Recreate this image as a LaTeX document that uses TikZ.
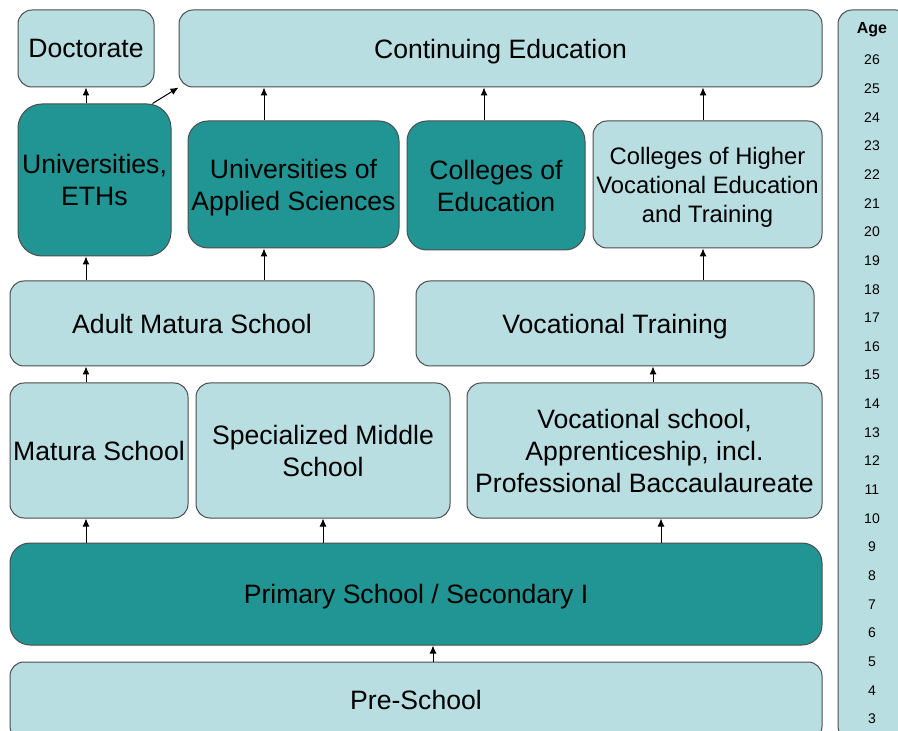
\documentclass[tikz,border=0pt]{standalone}
\usepackage{fontspec}
\setmainfont{Liberation Sans}
\definecolor{paleteal}{RGB}{185, 222, 225}
\definecolor{deepteal}{RGB}{33, 149, 147}
\definecolor{edgegray}{RGB}{77, 77, 77}
\usetikzlibrary{arrows.meta, positioning}

\begin{document}
\begin{tikzpicture}[x=0.5pt, y=-0.5pt,
    school/.style={draw=edgegray, line width=0.5pt, fill=paleteal, rounded corners=7pt, align=center, inner sep=0pt, text depth=0pt, font=\fontsize{13.3}{16}\selectfont},
    uni/.style={school, fill=deepteal, rounded corners=10pt},
    agenum/.style={font=\fontsize{7}{8}\selectfont, inner sep=0pt},
    arr/.style={-{Latex[length=4pt, width=3.5pt]}, line width=0.5pt}]
  \clip (0,0) rectangle (898,731);
  \fill[white] (0,0) rectangle (898,731);

  % Top row
  \node[school, minimum width=68pt, minimum height=38.5pt] (doc) at (86,48.5) {Doctorate};
  \node[school, minimum width=321.5pt, minimum height=38.5pt] (ce) at (500.5,48.5) {Continuing Education};

  % Tertiary level
  \node[uni, rounded corners=12pt, minimum width=76.5pt, minimum height=76pt] (eth) at (94.5,180) {Universities,\\ETHs};
  \node[uni, minimum width=105.5pt, minimum height=63.5pt] (uas) at (293.5,184.5) {Universities of\\Applied Sciences};
  \node[uni, minimum width=89pt, minimum height=64.5pt] (coe) at (496,185.5) {Colleges of\\Education};
  \node[school, minimum width=114.5pt, minimum height=63.5pt, font=\fontsize{11.9}{14.5}\selectfont] (hvet) at (707.5,184.5) {Colleges of Higher\\Vocational Education\\and Training};

  % Bridging
  \node[school, minimum width=182pt, minimum height=42.5pt] (adult) at (192,323.5) {Adult Matura School};
  \node[school, minimum width=199pt, minimum height=42.5pt] (voctr) at (615,323.5) {Vocational Training};

  % Secondary II
  \node[school, minimum width=89pt, minimum height=67.5pt] (matura) at (99,450.5) {Matura School};
  \node[school, minimum width=127pt, minimum height=67.5pt] (sms) at (323,450.5) {Specialized Middle\\School};
  \node[school, minimum width=177.5pt, minimum height=67.5pt] (vocsch) at (644.5,450.5) {Vocational school,\\Apprenticeship, incl.\\Professional Baccaulaureate};

  % Compulsory and pre-school
  \node[uni, minimum width=406pt, minimum height=51pt] (primary) at (416,594) {Primary School / Secondary I};
  \node[school, minimum width=406pt, minimum height=39pt] (pre) at (416,701) {\raisebox{1.5pt}{Pre-School}};

  % Age scale
  \node[school, minimum width=36pt, minimum height=365pt] (agecol) at (874,375) {};
  \node[agenum, font=\fontsize{8}{9}\selectfont\bfseries] (agehead) at (872,30) {Age};
  \foreach \a in {3,...,26}
    \node[agenum] (age\a) at (872,{60+(26-\a)*28.65}) {\a};

  % Arrow columns
  \coordinate (colA) at (86,0);
  \coordinate (colB) at (264,0);
  \coordinate (colC) at (484,0);
  \coordinate (colD) at (703,0);
  \coordinate (colE) at (653,0);
  \coordinate (colF) at (323,0);
  \coordinate (colG) at (661,0);
  \coordinate (colH) at (433,0);

  % Arrows
  \draw[arr] (eth.north -| colA) -- (doc.south -| colA);
  \draw[arr] ([xshift=-9.5pt]eth.north east) -- (ce.south west);
  \draw[arr] (uas.north -| colB) -- (ce.south -| colB);
  \draw[arr] (coe.north -| colC) -- (ce.south -| colC);
  \draw[arr] (hvet.north -| colD) -- (ce.south -| colD);
  \draw[arr] (adult.north -| colA) -- (eth.south -| colA);
  \draw[arr] (adult.north -| colB) -- (uas.south -| colB);
  \draw[arr] (voctr.north -| colD) -- (hvet.south -| colD);
  \draw[arr] (matura.north -| colA) -- (adult.south -| colA);
  \draw[arr] (vocsch.north -| colE) -- (voctr.south -| colE);
  \draw[arr] (primary.north -| colA) -- (matura.south -| colA);
  \draw[arr] (primary.north -| colF) -- (sms.south -| colF);
  \draw[arr] (primary.north -| colG) -- (vocsch.south -| colG);
  \draw[arr] (pre.north -| colH) -- (primary.south -| colH);
\end{tikzpicture}
\end{document}
